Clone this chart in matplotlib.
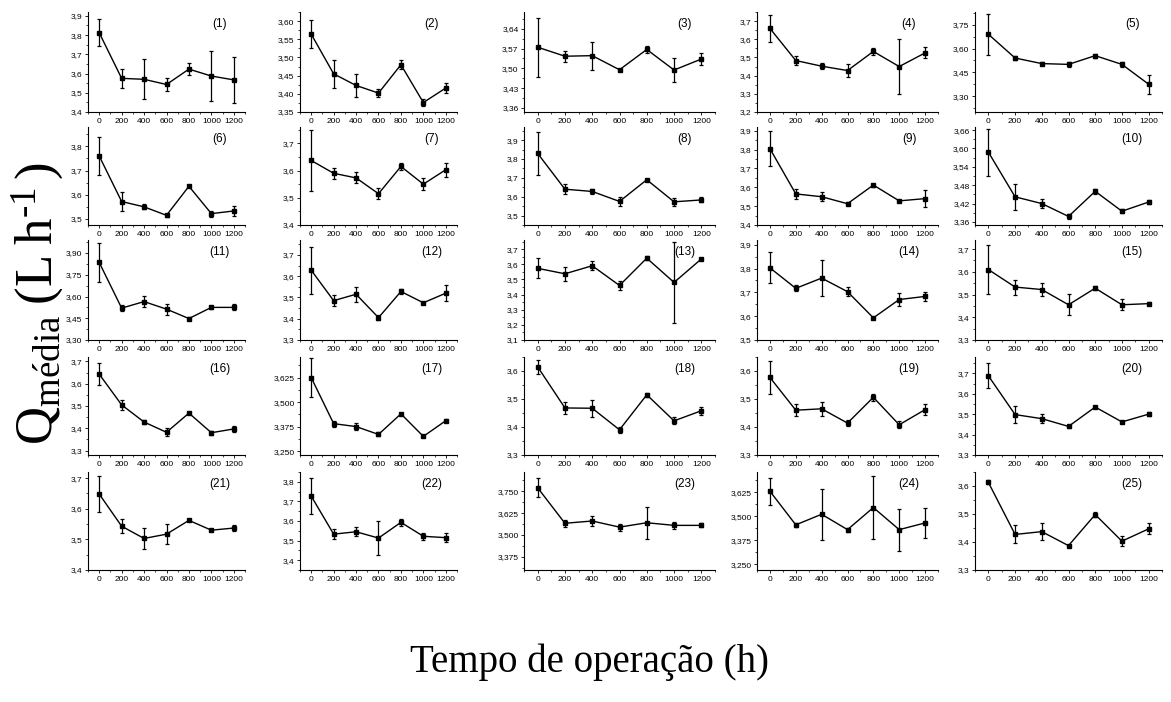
import matplotlib
matplotlib.use('Agg')
import matplotlib.pyplot as plt
from matplotlib.ticker import FixedLocator, MultipleLocator, NullFormatter

plt.rcParams['font.family'] = ['Liberation Sans', 'DejaVu Sans']
plt.rcParams['mathtext.fontset'] = 'custom'
plt.rcParams['mathtext.rm'] = 'Liberation Serif'
plt.rcParams['mathtext.it'] = 'Liberation Serif:italic'

hours = [0, 200, 400, 600, 800, 1000, 1200]
xtick_labels = ['0', '200', '400', '600', '800', '1000', '1200']

means = [
    [3.812, 3.575, 3.570, 3.543, 3.623, 3.587, 3.567],   # 1
    [3.564, 3.455, 3.423, 3.402, 3.480, 3.376, 3.416],   # 2
    [3.575, 3.543, 3.545, 3.495, 3.567, 3.494, 3.533],   # 3
    [3.660, 3.483, 3.452, 3.428, 3.533, 3.450, 3.525],   # 4
    [3.690, 3.540, 3.505, 3.500, 3.555, 3.500, 3.375],   # 5
    [3.760, 3.572, 3.550, 3.515, 3.635, 3.522, 3.533],   # 6
    [3.637, 3.590, 3.573, 3.515, 3.615, 3.550, 3.603],   # 7
    [3.830, 3.640, 3.628, 3.575, 3.690, 3.573, 3.583],   # 8
    [3.805, 3.565, 3.550, 3.513, 3.612, 3.528, 3.540],   # 9
    [3.588, 3.442, 3.420, 3.378, 3.460, 3.395, 3.425],   # 10
    [3.835, 3.520, 3.565, 3.513, 3.448, 3.525, 3.525],   # 11
    [3.628, 3.485, 3.515, 3.405, 3.528, 3.475, 3.520],   # 12
    [3.573, 3.537, 3.590, 3.460, 3.640, 3.480, 3.635],   # 13
    [3.803, 3.717, 3.760, 3.703, 3.593, 3.670, 3.683],   # 14
    [3.610, 3.533, 3.522, 3.455, 3.528, 3.455, 3.460],   # 15
    [3.643, 3.505, 3.428, 3.382, 3.468, 3.380, 3.397],   # 16
    [3.625, 3.390, 3.375, 3.335, 3.440, 3.325, 3.405],   # 17
    [3.615, 3.468, 3.467, 3.390, 3.515, 3.422, 3.458],   # 18
    [3.577, 3.460, 3.465, 3.414, 3.506, 3.408, 3.462],   # 19
    [3.688, 3.498, 3.478, 3.440, 3.535, 3.462, 3.500],   # 20
    [3.648, 3.543, 3.503, 3.517, 3.562, 3.530, 3.537],   # 21
    [3.727, 3.533, 3.545, 3.513, 3.593, 3.522, 3.515],   # 22
    [3.770, 3.567, 3.580, 3.545, 3.570, 3.555, 3.555],   # 23
    [3.630, 3.455, 3.510, 3.430, 3.545, 3.430, 3.465],   # 24
    [3.613, 3.427, 3.437, 3.387, 3.498, 3.403, 3.447],   # 25
]

errors = [
    [0.070, 0.048, 0.105, 0.032, 0.033, 0.130, 0.120],
    [0.039, 0.038, 0.031, 0.010, 0.013, 0.010, 0.013],
    [0.104, 0.020, 0.050, 0.003, 0.012, 0.042, 0.022],
    [0.073, 0.025, 0.015, 0.035, 0.020, 0.150, 0.030],
    [0.130, 0.010, 0.012, 0.015, 0.012, 0.015, 0.060],
    [0.080, 0.038, 0.010, 0.007, 0.005, 0.012, 0.020],
    [0.113, 0.020, 0.020, 0.020, 0.013, 0.022, 0.025],
    [0.115, 0.025, 0.015, 0.022, 0.005, 0.020, 0.013],
    [0.093, 0.025, 0.025, 0.007, 0.008, 0.007, 0.047],
    [0.077, 0.043, 0.016, 0.008, 0.008, 0.006, 0.007],
    [0.135, 0.022, 0.040, 0.038, 0.008, 0.008, 0.020],
    [0.110, 0.025, 0.035, 0.012, 0.012, 0.005, 0.038],
    [0.065, 0.045, 0.030, 0.030, 0.015, 0.270, 0.005],
    [0.065, 0.012, 0.075, 0.018, 0.005, 0.028, 0.020],
    [0.108, 0.033, 0.028, 0.047, 0.010, 0.025, 0.007],
    [0.050, 0.022, 0.008, 0.017, 0.005, 0.010, 0.013],
    [0.100, 0.015, 0.020, 0.010, 0.004, 0.004, 0.008],
    [0.025, 0.020, 0.030, 0.010, 0.008, 0.013, 0.015],
    [0.060, 0.022, 0.025, 0.012, 0.013, 0.013, 0.020],
    [0.062, 0.042, 0.022, 0.008, 0.003, 0.004, 0.010],
    [0.060, 0.022, 0.035, 0.033, 0.003, 0.004, 0.010],
    [0.090, 0.025, 0.022, 0.087, 0.017, 0.018, 0.022],
    [0.055, 0.020, 0.030, 0.020, 0.090, 0.020, 0.012],
    [0.070, 0.010, 0.133, 0.010, 0.165, 0.110, 0.080],
    [0.007, 0.032, 0.030, 0.003, 0.008, 0.017, 0.020],
]

ytick_labels = [
    ['3,4', '3,5', '3,6', '3,7', '3,8', '3,9'],
    ['3,35', '3,40', '3,45', '3,50', '3,55', '3,60'],
    ['3,36', '3,43', '3,50', '3,57', '3,64'],
    ['3,2', '3,3', '3,4', '3,5', '3,6', '3,7'],
    ['3,30', '3,45', '3,60', '3,75'],
    ['3,5', '3,6', '3,7', '3,8'],
    ['3,4', '3,5', '3,6', '3,7'],
    ['3,5', '3,6', '3,7', '3,8', '3,9'],
    ['3,4', '3,5', '3,6', '3,7', '3,8', '3,9'],
    ['3,36', '3,42', '3,48', '3,54', '3,60', '3,66'],
    ['3,30', '3,45', '3,60', '3,75', '3,90'],
    ['3,3', '3,4', '3,5', '3,6', '3,7'],
    ['3,1', '3,2', '3,3', '3,4', '3,5', '3,6', '3,7'],
    ['3,5', '3,6', '3,7', '3,8', '3,9'],
    ['3,3', '3,4', '3,5', '3,6', '3,7'],
    ['3,3', '3,4', '3,5', '3,6', '3,7'],
    ['3,250', '3,375', '3,500', '3,625'],
    ['3,3', '3,4', '3,5', '3,6'],
    ['3,3', '3,4', '3,5', '3,6'],
    ['3,3', '3,4', '3,5', '3,6', '3,7'],
    ['3,4', '3,5', '3,6', '3,7'],
    ['3,4', '3,5', '3,6', '3,7', '3,8'],
    ['3,375', '3,500', '3,625', '3,750'],
    ['3,250', '3,375', '3,500', '3,625'],
    ['3,3', '3,4', '3,5', '3,6'],
]

y_ranges = [
    (3.40, 3.92), (3.35, 3.625), (3.345, 3.70), (3.20, 3.75), (3.20, 3.83),
    (3.475, 3.88), (3.40, 3.76), (3.45, 3.97), (3.40, 3.92), (3.35, 3.67),
    (3.30, 3.99), (3.30, 3.77), (3.10, 3.76), (3.50, 3.92), (3.30, 3.74),
    (3.28, 3.72), (3.23, 3.73), (3.30, 3.65), (3.30, 3.65), (3.30, 3.78),
    (3.40, 3.72), (3.35, 3.85), (3.30, 3.86), (3.22, 3.73), (3.30, 3.65),
]

panel_names = ['(%d)' % (i + 1) for i in range(25)]

W, H = 1171, 702
fig = plt.figure(figsize=(W / 100, H / 100), dpi=100)
fig.patch.set_facecolor('white')

col_edges = [(88, 245), (300, 457), (524, 715), (757, 938), (975, 1162)]
row_edges = [(12, 112), (127, 225), (240, 340), (357, 455), (472, 570)]

for i in range(25):
    r, c = divmod(i, 5)
    l, rr = col_edges[c]
    t, b = row_edges[r]
    ax = fig.add_axes([l / W, 1 - b / H, (rr - l) / W, (b - t) / H])
    ax.errorbar(hours, means[i], yerr=errors[i], color='black', lw=1.0,
                marker='s', ms=2.2, capsize=1.6, elinewidth=0.9, capthick=0.9)
    ax.set_xlim(-100, 1300)
    ax.set_ylim(*y_ranges[i])
    ax.xaxis.set_major_locator(FixedLocator(hours))
    ax.set_xticklabels(xtick_labels)
    ax.xaxis.set_minor_locator(MultipleLocator(100))
    vals = [float(s.replace(',', '.')) for s in ytick_labels[i]]
    ax.yaxis.set_major_locator(FixedLocator(vals))
    ax.set_yticklabels(ytick_labels[i])
    ax.yaxis.set_minor_locator(MultipleLocator((vals[1] - vals[0]) / 2))
    ax.yaxis.set_minor_formatter(NullFormatter())
    for s in ('top', 'right'):
        ax.spines[s].set_visible(False)
    for s in ('left', 'bottom'):
        ax.spines[s].set_linewidth(0.8)
    ax.tick_params(which='major', direction='out', length=2.5, width=0.6,
                   labelsize=6, pad=1.5, colors='black')
    ax.tick_params(which='minor', direction='out', length=1.5, width=0.5)
    ax.text(0.84, 0.88, panel_names[i], transform=ax.transAxes,
            ha='center', va='center', fontsize=8.5)

fig.text(38 / W, 1 - 303 / H,
         r'$\mathrm{Q_{média}\;(L\;h^{\text{-}1}\,)}$',
         rotation=90, ha='center', va='center', fontsize=38)
fig.text(590 / W, 1 - 662 / H, 'Tempo de operação (h)',
         family=['Liberation Serif', 'DejaVu Serif'],
         ha='center', va='center', fontsize=28)

fig.savefig('out.png', dpi=100, facecolor='white')
